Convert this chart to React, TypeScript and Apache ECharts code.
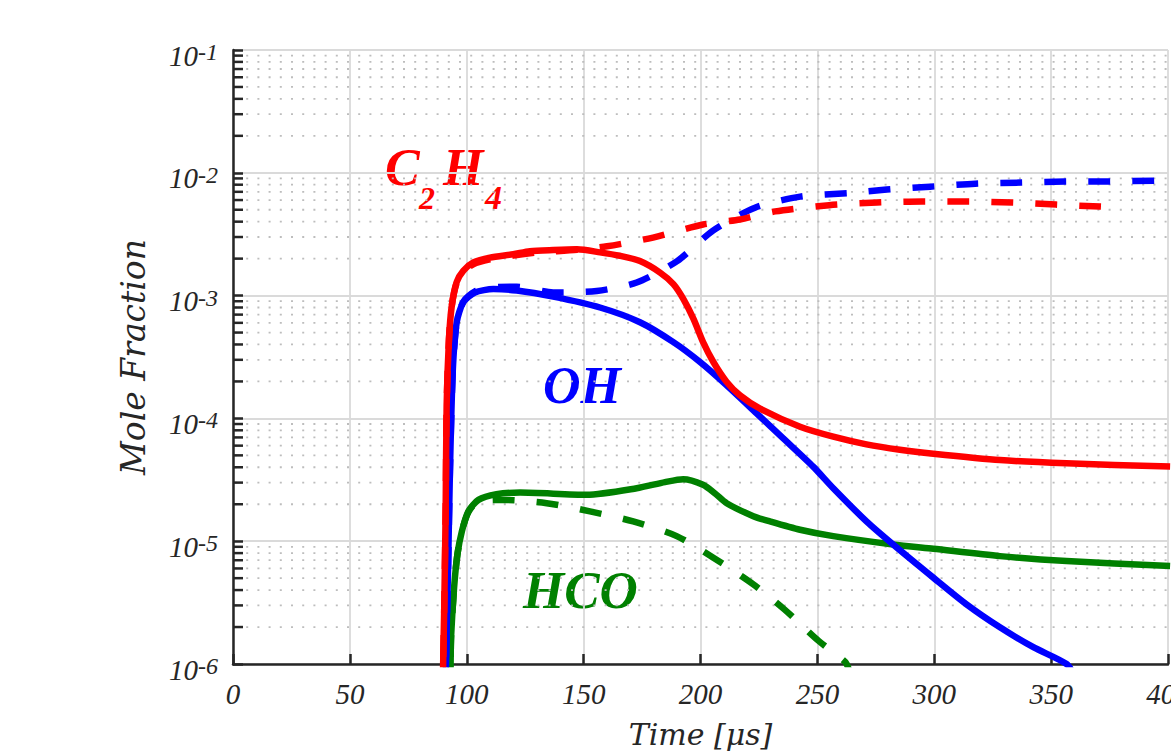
import React, { useEffect, useRef } from "react";
import * as echarts from "echarts";

// Time [µs] ticks
const xTickValues = [0, 50, 100, 150, 200, 250, 300, 350, 400];
const yDecades = [1e-6, 1e-5, 1e-4, 1e-3, 1e-2];
const minorMultipliers = [2, 3, 4, 5, 6, 7, 8, 9];

// C2H4 (red)
const c2h4Solid: [number, number][] = [
  [89.8, 5e-7], [89.9, 1e-6], [90.4, 3.06e-6], [91.0, 1.97e-5], [91.4, 1.27e-4],
  [92.4, 4.43e-4], [93.6, 8.26e-4], [95.7, 1.29e-3], [98.5, 1.59e-3], [102.8, 1.86e-3],
  [109.9, 2.04e-3], [119.9, 2.17e-3], [127, 2.3e-3], [137, 2.35e-3], [147.2, 2.38e-3],
  [157, 2.25e-3], [165.5, 2.11e-3], [174.1, 1.91e-3], [182.7, 1.54e-3], [188.4, 1.24e-3],
  [192.7, 9.37e-4], [197, 6.46e-4], [201.1, 4.18e-4], [205.5, 2.88e-4], [211.2, 1.98e-4],
  [216.9, 1.54e-4], [225.5, 1.2e-4], [242.6, 8.55e-5], [256.8, 7.1e-5], [271, 6.15e-5],
  [285.3, 5.56e-5], [299.6, 5.16e-5], [328.1, 4.58e-5], [356.6, 4.31e-5], [400.9, 4.05e-5],
];
const c2h4Dashed: [number, number][] = [
  [89.8, 5e-7], [89.9, 1e-6], [90.4, 3.06e-6], [91.0, 1.97e-5], [91.4, 1.27e-4],
  [92.4, 4.43e-4], [93.6, 8.26e-4], [95.7, 1.27e-3], [98.5, 1.55e-3], [102.8, 1.8e-3],
  [109.9, 1.97e-3], [119.9, 2.12e-3], [130, 2.24e-3], [147.2, 2.36e-3], [160, 2.52e-3],
  [179.7, 2.97e-3], [201.1, 3.79e-3], [216.9, 4.17e-3], [232, 4.85e-3], [255, 5.45e-3],
  [275.5, 5.73e-3], [294.8, 5.84e-3], [314, 5.84e-3], [333.3, 5.73e-3], [352.1, 5.51e-3],
  [370.9, 5.31e-3], [377.5, 5.24e-3],
];

// OH (blue)
const ohSolid: [number, number][] = [
  [91.0, 5e-7], [91.1, 1e-6], [92.0, 6e-6], [92.8, 3.69e-5], [94.0, 2.39e-4],
  [95.7, 6.07e-4], [98.5, 8.8e-4], [103.5, 1.06e-3], [111.4, 1.13e-3], [121.4, 1.1e-3],
  [137, 9.8e-4], [157, 8.0e-4], [174.1, 6.07e-4], [188.4, 4.18e-4], [199.8, 2.88e-4],
  [211.2, 1.86e-4], [224, 1.1e-4], [235.4, 6.87e-5], [248.2, 4.05e-5], [256.8, 2.7e-5],
  [271, 1.45e-5], [282.4, 9.4e-6], [299.6, 5.05e-6], [313.8, 3.06e-6], [328.1, 1.99e-6],
  [342.4, 1.37e-6], [356.6, 1e-6], [360, 8e-7],
];
const ohDashed: [number, number][] = [
  [91.0, 5e-7], [91.1, 1e-6], [92.0, 6e-6], [92.8, 3.69e-5], [94.0, 2.39e-4],
  [95.7, 6.07e-4], [98.5, 8.9e-4], [103.5, 1.08e-3], [111.4, 1.17e-3], [121.4, 1.18e-3],
  [137, 1.06e-3], [155.6, 1.09e-3], [172.7, 1.28e-3], [190, 1.91e-3], [205.5, 3.4e-3],
  [223.3, 5.2e-3], [242.6, 6.4e-3], [263.9, 6.86e-3], [279.7, 7.3e-3], [298.2, 7.71e-3],
  [317.5, 8.16e-3], [336.7, 8.32e-3], [356, 8.48e-3], [374.8, 8.5e-3], [394, 8.63e-3],
  [401, 8.7e-3],
];

// HCO (green)
const hcoSolid: [number, number][] = [
  [93.0, 5e-7], [93.1, 1e-6], [93.3, 1.67e-6], [94.6, 4.23e-6], [96, 7.8e-6],
  [97.9, 1.2e-5], [100.7, 1.75e-5], [105, 2.17e-5], [112.7, 2.41e-5], [122.8, 2.49e-5],
  [151.3, 2.39e-5], [172.7, 2.7e-5], [184.8, 3.03e-5], [192.6, 3.2e-5], [201.1, 2.88e-5],
  [206.1, 2.46e-5], [211.2, 2.04e-5], [222.6, 1.6e-5], [229.7, 1.45e-5], [242.6, 1.24e-5],
  [256.8, 1.1e-5], [282.4, 9.4e-6], [299.6, 8.67e-6], [328.1, 7.56e-6], [356.6, 6.89e-6],
  [400.9, 6.27e-6],
];
const hcoDashed: [number, number][] = [
  [93.0, 5e-7], [93.1, 1e-6], [93.3, 1.67e-6], [94.6, 4.23e-6], [96, 7.8e-6],
  [97.9, 1.2e-5], [100.7, 1.72e-5], [105, 2.12e-5], [115.6, 2.17e-5], [134.2, 2.04e-5],
  [152.7, 1.75e-5], [171.2, 1.45e-5], [189.8, 1.1e-5], [205.5, 7.34e-6], [222.6, 4.45e-6],
  [236, 2.77e-6], [250.4, 1.55e-6], [261.9, 1.04e-6], [263.5, 9e-7],
];

const RED = "#ff0000";
const BLUE = "#0000ff";
const GREEN = "#008000";
const AXIS = "#262626";
const SERIF = "'Liberation Serif', 'Times New Roman', serif";
const WIDE_SERIF = "'DejaVu Serif', serif";

const minorValues: number[] = [];
yDecades.forEach((d) => minorMultipliers.forEach((m) => minorValues.push(d * m)));

function lineSeries(name: string, data: [number, number][], color: string, dashed: boolean) {
  return {
    name,
    type: "line",
    data,
    showSymbol: false,
    symbol: "none",
    clip: true,
    silent: true,
    smooth: 0.25,
    lineStyle: {
      color,
      width: 6.5,
      type: dashed ? [22, 22] : "solid",
      cap: "butt",
      join: "round",
    },
    z: 3,
  };
}

export default function App() {
  const ref = useRef<HTMLDivElement>(null);
  useEffect(() => {
    if (!ref.current) return;
    const chart = echarts.init(ref.current, undefined, { renderer: "svg" });
    const option: any = {
      animation: false,
      backgroundColor: "#ffffff",
      grid: { left: 233, top: 50, right: 132, bottom: 87, containLabel: false },
      xAxis: {
        type: "value",
        min: xTickValues[0],
        max: xTickValues[xTickValues.length - 1],
        interval: 50,
        name: "Time [μs]",
        nameLocation: "middle",
        nameGap: 55,
        nameTextStyle: { fontFamily: WIDE_SERIF, fontStyle: "italic", fontSize: 30, color: AXIS },
        axisLine: { show: true, lineStyle: { color: AXIS, width: 2.5 } },
        axisTick: { show: true, inside: true, length: 10, lineStyle: { color: AXIS, width: 2.5 } },
        axisLabel: {
          fontFamily: SERIF,
          fontStyle: "italic",
          fontSize: 29,
          color: AXIS,
          margin: 15,
        },
        splitLine: { show: true, lineStyle: { color: "#dadada", width: 1.8 } },
      },
      yAxis: {
        type: "log",
        logBase: 10,
        min: 1e-6,
        max: 1e-1,
        name: "Mole Fraction",
        nameLocation: "middle",
        nameGap: 83,
        nameRotate: 90,
        nameTextStyle: { fontFamily: WIDE_SERIF, fontStyle: "italic", fontSize: 33, color: AXIS },
        axisLine: { show: true, lineStyle: { color: AXIS, width: 2.5 } },
        axisTick: { show: true, inside: true, length: 10, lineStyle: { color: AXIS, width: 2.5 } },
        axisLabel: {
          margin: 15,
          padding: [10, 0, 0, 0],
          formatter: (v: number) => `{b|10}{s|${Math.round(Math.log10(v))}}`,
          rich: {
            b: {
              fontFamily: SERIF,
              fontStyle: "italic",
              fontSize: 29,
              color: AXIS,
              lineHeight: 30,
              verticalAlign: "bottom",
            },
            s: {
              fontFamily: SERIF,
              fontStyle: "italic",
              fontSize: 24,
              color: AXIS,
              lineHeight: 20,
              verticalAlign: "top",
            },
          },
        },
        splitLine: { show: true, lineStyle: { color: "#dadada", width: 1.8 } },
      },
      series: [
        {
          type: "custom",
          silent: true,
          z: 1,
          clip: false,
          data: minorValues.map((v) => [0, v]),
          encode: { x: 0, y: 1 },
          renderItem: (_p: any, api: any) => {
            const v = api.value(1);
            const a = api.coord([xTickValues[0], v]);
            const b = api.coord([xTickValues[xTickValues.length - 1], v]);
            return {
              type: "group",
              children: [
                {
                  type: "line",
                  shape: { x1: a[0] + 2, y1: a[1], x2: b[0], y2: b[1] },
                  style: { stroke: "#bdbdbd", lineWidth: 1.8, lineDash: [2, 9.2] },
                },
                {
                  type: "line",
                  shape: { x1: a[0], y1: a[1], x2: a[0] + 10, y2: a[1] },
                  style: { stroke: AXIS, lineWidth: 2.5 },
                },
              ],
            };
          },
        },
        lineSeries("HCO solid", hcoSolid, GREEN, false),
        lineSeries("HCO dashed", hcoDashed, GREEN, true),
        lineSeries("OH solid", ohSolid, BLUE, false),
        lineSeries("OH dashed", ohDashed, BLUE, true),
        lineSeries("C2H4 solid", c2h4Solid, RED, false),
        lineSeries("C2H4 dashed", c2h4Dashed, RED, true),
      ],
      graphic: [
        {
          type: "group",
          z: 100,
          children: [
            { type: "text", x: 385, y: 167, style: { text: "C", fill: RED, font: `italic bold 52px ${SERIF}`, verticalAlign: "middle" } },
            { type: "text", x: 419, y: 198, style: { text: "2", fill: RED, font: `italic bold 32px ${SERIF}`, verticalAlign: "middle" } },
            { type: "text", x: 443, y: 167, style: { text: "H", fill: RED, font: `italic bold 52px ${SERIF}`, verticalAlign: "middle" } },
            { type: "text", x: 485, y: 197, style: { text: "4", fill: RED, font: `italic bold 34px ${SERIF}`, verticalAlign: "middle" } },
            { type: "text", x: 543, y: 385, style: { text: "OH", fill: BLUE, font: `italic bold 52px ${SERIF}`, verticalAlign: "middle" } },
            { type: "text", x: 523, y: 590, style: { text: "HCO", fill: GREEN, font: `italic bold 53px ${SERIF}`, verticalAlign: "middle" } },
          ],
        },
      ],
    };
    chart.setOption(option);
    return () => chart.dispose();
  }, []);
  return (
    <div style={{ position: "absolute", left: 0, top: 0, width: 1171, height: 754, overflow: "hidden", background: "#fff" }}>
      <div ref={ref} style={{ width: 1300, height: 754 }} />
    </div>
  );
}
